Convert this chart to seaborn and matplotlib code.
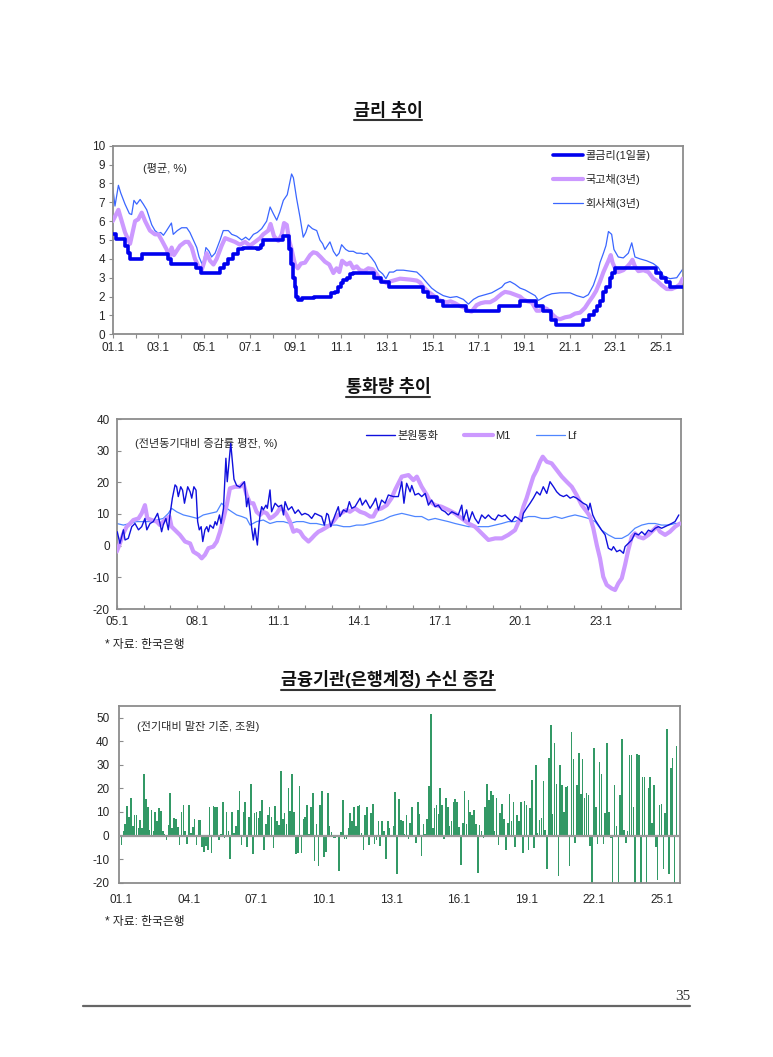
import matplotlib
matplotlib.use('Agg')
import matplotlib.pyplot as plt
from matplotlib.lines import Line2D
import seaborn as sns
import numpy as np

# ---- 금리 추이 (%, 연도 소수 표기) ----
call_x = [2001.0, 2001.15, 2001.55, 2001.65, 2001.75, 2002.3, 2003.4, 2003.55, 2004.65, 2004.85,
          2005.7, 2005.85, 2006.05, 2006.28, 2006.5, 2006.72, 2007.3, 2007.4, 2007.5, 2007.6,
          2008.45, 2008.72, 2008.8, 2008.88, 2008.96, 2009.04, 2009.12, 2009.3, 2009.6, 2009.8,
          2010.55, 2010.75, 2010.85, 2011.0, 2011.1, 2011.25, 2011.4, 2011.5, 2012.45, 2012.75,
          2013.1, 2014.6, 2014.8, 2015.2, 2015.45, 2016.45, 2017.9, 2018.85, 2019.55, 2019.85,
          2020.2, 2020.4, 2021.6, 2021.85, 2022.05, 2022.2, 2022.35, 2022.45, 2022.6, 2022.75,
          2022.85, 2023.0, 2024.8, 2025.0, 2025.2, 2025.4, 2025.95]
call_y = [5.3, 5.05, 4.7, 4.3, 4.0, 4.25, 4.0, 3.75, 3.5, 3.25,
          3.5, 3.75, 4.0, 4.25, 4.5, 4.6, 4.5, 4.6, 4.75, 5.0,
          5.2, 4.5, 3.75, 3.0, 2.5, 2.0, 1.8, 1.9, 1.95, 2.0,
          2.2, 2.25, 2.5, 2.7, 2.9, 3.0, 3.2, 3.25, 3.0, 2.75,
          2.5, 2.25, 2.0, 1.75, 1.5, 1.25, 1.5, 1.75, 1.5, 1.25,
          0.75, 0.5, 0.75, 1.0, 1.25, 1.5, 1.75, 2.25, 2.5, 3.0,
          3.25, 3.5, 3.25, 3.0, 2.75, 2.5, 2.5]

ktb_x = [2001.0, 2001.25, 2001.54, 2001.76, 2001.98, 2002.12, 2002.27, 2002.42, 2002.63, 2002.85,
         2003.0, 2003.14, 2003.36, 2003.48, 2003.58, 2003.68, 2003.95, 2004.17, 2004.31, 2004.46,
         2004.6, 2004.75, 2004.89, 2005.0, 2005.11, 2005.26, 2005.41, 2005.55, 2005.77, 2005.92,
         2006.13, 2006.35, 2006.57, 2006.79, 2007.01, 2007.23, 2007.45, 2007.59, 2007.81, 2007.91,
         2008.06, 2008.25, 2008.4, 2008.5, 2008.62, 2008.72, 2008.83, 2008.98, 2009.1, 2009.24,
         2009.42, 2009.64, 2009.78, 2009.93, 2010.1, 2010.29, 2010.48, 2010.66, 2010.8, 2010.92,
         2011.04, 2011.24, 2011.39, 2011.53, 2011.68, 2011.82, 2012.0, 2012.19, 2012.38, 2012.55,
         2012.7, 2012.87, 2013.02, 2013.14, 2013.58, 2014.02, 2014.31, 2014.45, 2014.6, 2014.82,
         2015.04, 2015.26, 2015.4, 2015.62, 2015.79, 2015.98, 2016.2, 2016.42, 2016.57, 2016.71,
         2016.93, 2017.11, 2017.3, 2017.52, 2017.74, 2017.88, 2018.03, 2018.17, 2018.39, 2018.61,
         2018.83, 2018.97, 2019.15, 2019.34, 2019.56, 2019.7, 2019.85, 2020.0, 2020.14, 2020.29,
         2020.43, 2020.58, 2020.8, 2021.02, 2021.24, 2021.46, 2021.67, 2021.86, 2022.01, 2022.16,
         2022.33, 2022.48, 2022.59, 2022.7, 2022.8, 2022.88, 2022.99, 2023.13, 2023.35, 2023.53,
         2023.64, 2023.75, 2023.86, 2024.01, 2024.23, 2024.45, 2024.66, 2024.81, 2025.03, 2025.25,
         2025.47, 2025.66, 2025.83, 2025.95]
ktb_y = [6.0, 6.6, 5.4, 4.8, 6.0, 6.1, 6.45, 6.0, 5.5, 5.3,
         5.3, 5.0, 4.5, 4.1, 4.6, 4.2, 4.7, 4.9, 4.9, 4.6,
         4.0, 3.6, 3.4, 3.8, 4.3, 3.9, 3.7, 4.0, 4.7, 5.1,
         5.0, 4.9, 4.75, 4.9, 4.7, 4.9, 5.1, 5.3, 5.5, 5.85,
         5.2, 4.95, 5.3, 5.9, 5.8, 5.0, 4.5, 3.7, 3.5, 3.75,
         3.8, 4.2, 4.35, 4.3, 4.1, 3.85, 3.7, 3.25, 3.5, 3.3,
         3.9, 3.7, 3.8, 3.5, 3.6, 3.4, 3.35, 3.5, 3.45, 3.2,
         2.9, 2.8, 2.7, 2.8, 2.95, 2.9, 2.85, 2.75, 2.5, 2.25,
         2.05, 1.85, 1.75, 1.7, 1.75, 1.65, 1.5, 1.4, 1.25, 1.2,
         1.55, 1.65, 1.7, 1.7, 1.85, 2.0, 2.15, 2.25, 2.2, 2.1,
         2.0, 1.85, 1.75, 1.7, 1.25, 1.25, 1.4, 1.35, 1.2, 1.0,
         0.85, 0.8, 0.9, 0.95, 1.1, 1.15, 1.4, 1.75, 2.0, 2.3,
         2.8, 3.3, 3.6, 3.9, 4.2, 3.8, 3.5, 3.3, 3.4, 3.6,
         3.75, 3.95, 3.6, 3.35, 3.4, 3.3, 2.95, 2.85, 2.6, 2.4,
         2.4, 2.5, 2.65, 2.95]

corp_x = [2001.0, 2001.1, 2001.25, 2001.35, 2001.54, 2001.73, 2001.83, 2001.93, 2002.05, 2002.2,
          2002.34, 2002.49, 2002.6, 2002.71, 2002.85, 2003.0, 2003.1, 2003.22, 2003.36, 2003.57,
          2003.65, 2003.83, 2004.02, 2004.24, 2004.38, 2004.53, 2004.68, 2004.78, 2004.85, 2004.92,
          2005.0, 2005.08, 2005.22, 2005.33, 2005.48, 2005.7, 2005.84, 2006.06, 2006.21, 2006.43,
          2006.65, 2006.82, 2006.97, 2007.16, 2007.33, 2007.52, 2007.74, 2007.89, 2008.03, 2008.18,
          2008.32, 2008.47, 2008.64, 2008.83, 2008.91, 2009.05, 2009.2, 2009.34, 2009.45, 2009.56,
          2009.74, 2009.93, 2010.07, 2010.19, 2010.29, 2010.51, 2010.66, 2010.8, 2010.91, 2011.02,
          2011.2, 2011.34, 2011.53, 2011.68, 2011.85, 2012.0, 2012.15, 2012.33, 2012.48, 2012.63,
          2012.82, 2012.96, 2013.11, 2013.29, 2013.43, 2013.72, 2014.02, 2014.31, 2014.53, 2014.74,
          2014.96, 2015.18, 2015.47, 2015.77, 2016.06, 2016.35, 2016.57, 2016.79, 2017.01, 2017.3,
          2017.59, 2017.81, 2018.03, 2018.17, 2018.39, 2018.61, 2018.83, 2019.05, 2019.27, 2019.49,
          2019.63, 2019.78, 2020.0, 2020.22, 2020.58, 2021.02, 2021.31, 2021.6, 2021.82, 2022.04,
          2022.21, 2022.33, 2022.48, 2022.59, 2022.7, 2022.84, 2022.94, 2023.13, 2023.35, 2023.57,
          2023.72, 2023.86, 2024.08, 2024.37, 2024.66, 2024.88, 2025.1, 2025.39, 2025.69, 2025.95]
corp_y = [7.8, 6.8, 7.9, 7.5, 6.9, 6.4, 6.35, 7.1, 6.9, 7.15,
          6.9, 6.6, 6.2, 5.8, 5.5, 5.35, 5.4, 5.25, 5.5, 5.9,
          5.3, 5.5, 5.65, 5.65, 5.4, 5.0, 4.6, 4.1, 3.9, 3.7,
          4.0, 4.6, 4.4, 4.1, 4.3, 5.0, 5.5, 5.5, 5.3, 5.2,
          5.0, 5.15, 5.0, 5.3, 5.4, 5.6, 6.0, 6.75, 6.4, 6.05,
          6.5, 7.1, 7.4, 8.5, 8.3, 7.2, 6.2, 5.15, 5.4, 5.8,
          5.6, 5.5, 5.0, 4.8, 4.5, 4.9, 4.4, 4.15, 4.3, 4.75,
          4.5, 4.4, 4.4, 4.3, 4.3, 4.25, 4.3, 4.05, 3.8, 3.4,
          3.2, 2.95, 3.3, 3.3, 3.4, 3.4, 3.35, 3.3, 3.05, 2.75,
          2.45, 2.25, 2.05, 1.95, 2.0, 1.85, 1.6, 1.85, 2.0, 2.1,
          2.2, 2.35, 2.5, 2.7, 2.8, 2.65, 2.45, 2.35, 2.2, 2.05,
          1.8, 1.9, 2.05, 2.15, 2.2, 2.2, 2.05, 1.95, 2.1, 2.6,
          3.2, 3.8, 4.3, 4.7, 5.45, 5.3, 4.5, 4.1, 4.05, 4.3,
          4.85, 4.1, 4.0, 3.9, 3.75, 3.55, 3.1, 2.95, 3.0, 3.45]

# ---- 통화량 추이 (전년동기대비 증감률 평잔, %) ----
base_x = [2005.02, 2005.12, 2005.25, 2005.31, 2005.43, 2005.56, 2005.68, 2005.81, 2005.93, 2006.05,
          2006.12, 2006.24, 2006.36, 2006.52, 2006.61, 2006.67, 2006.73, 2006.83, 2006.92, 2006.98,
          2007.07, 2007.17, 2007.23, 2007.29, 2007.38, 2007.45, 2007.52, 2007.64, 2007.73, 2007.79,
          2007.87, 2007.95, 2008.01, 2008.07, 2008.14, 2008.2, 2008.28, 2008.35, 2008.41, 2008.47,
          2008.59, 2008.66, 2008.72, 2008.82, 2008.88, 2008.97, 2009.03, 2009.06, 2009.11, 2009.24,
          2009.36, 2009.46, 2009.58, 2009.75, 2009.83, 2009.89, 2009.96, 2010.02, 2010.08, 2010.14,
          2010.23, 2010.29, 2010.33, 2010.39, 2010.45, 2010.55, 2010.6, 2010.7, 2010.76, 2010.89,
          2011.01, 2011.13, 2011.2, 2011.26, 2011.38, 2011.51, 2011.63, 2011.75, 2011.88, 2012.0,
          2012.13, 2012.25, 2012.37, 2012.5, 2012.62, 2012.72, 2012.81, 2012.87, 2012.96, 2013.05,
          2013.12, 2013.24, 2013.3, 2013.43, 2013.55, 2013.65, 2013.74, 2013.86, 2014.05, 2014.13,
          2014.26, 2014.42, 2014.54, 2014.63, 2014.73, 2014.85, 2014.98, 2015.1, 2015.29, 2015.47,
          2015.6, 2015.68, 2015.78, 2015.91, 2015.97, 2016.09, 2016.22, 2016.34, 2016.47, 2016.59,
          2016.71, 2016.84, 2016.96, 2017.08, 2017.21, 2017.33, 2017.46, 2017.58, 2017.7, 2017.83,
          2017.89, 2018.01, 2018.1, 2018.22, 2018.32, 2018.45, 2018.57, 2018.7, 2018.82, 2018.94,
          2019.07, 2019.19, 2019.32, 2019.44, 2019.56, 2019.69, 2019.81, 2019.93, 2020.06, 2020.12,
          2020.24, 2020.37, 2020.49, 2020.62, 2020.74, 2020.86, 2020.99, 2021.11, 2021.24, 2021.36,
          2021.48, 2021.61, 2021.73, 2021.86, 2021.98, 2022.1, 2022.35, 2022.48, 2022.54, 2022.6,
          2022.7, 2022.79, 2022.91, 2023.03, 2023.16, 2023.28, 2023.4, 2023.47, 2023.59, 2023.71,
          2023.84, 2023.9, 2024.02, 2024.15, 2024.27, 2024.4, 2024.52, 2024.64, 2024.77, 2024.89,
          2025.02, 2025.14, 2025.26, 2025.39, 2025.51, 2025.63, 2025.76, 2025.9]
base_y = [4.4, 0.7, 5.0, 1.8, 2.3, 6.0, 7.0, 5.0, 6.0, 8.6,
          5.0, 7.0, 7.6, 10.2, 7.0, 4.4, 6.5, 8.6, 5.0, 9.7,
          15.0, 19.2, 18.6, 15.5, 18.6, 17.5, 13.4, 18.6, 17.0, 15.0,
          18.6, 17.5, 7.6, 5.0, 6.0, 1.3, 5.0, 6.0, 4.4, 6.5,
          5.5, 7.6, 6.5, 9.7, 7.0, 11.8, 22.3, 27.6, 20.2, 32.3,
          21.0, 19.0, 18.5, 20.2, 12.3, 15.0, 10.7, 5.5, 1.8, 5.5,
          0.2, 6.5, 9.7, 12.3, 11.3, 12.8, 11.8, 17.6, 10.7, 13.4,
          12.3, 12.8, 9.7, 13.9, 11.3, 12.3, 10.2, 11.3, 9.7, 10.2,
          9.7, 8.6, 10.2, 9.7, 9.2, 6.5, 10.2, 9.7, 6.0, 8.1,
          9.7, 12.3, 9.2, 11.3, 10.7, 13.9, 11.8, 12.3, 15.0, 12.8,
          14.4, 11.8, 13.4, 15.0, 11.3, 14.4, 13.4, 16.0, 15.5, 15.5,
          20.2, 13.4, 19.7, 17.0, 19.0, 16.0, 16.5, 15.5, 16.5, 12.8,
          14.4, 12.3, 12.8, 11.3, 10.7, 9.7, 10.7, 10.2, 9.7, 12.8,
          8.1, 11.3, 7.6, 10.7, 8.6, 7.0, 9.7, 8.6, 9.7, 8.6,
          8.1, 9.7, 9.2, 9.7, 8.6, 7.6, 9.2, 8.6, 7.6, 10.2,
          11.8, 13.4, 15.0, 17.0, 16.0, 18.6, 16.5, 20.2, 18.6, 17.0,
          16.0, 15.5, 16.0, 15.0, 15.5, 15.0, 13.4, 12.8, 11.3, 13.4,
          9.7, 8.1, 6.5, 4.9, 3.4, -0.8, -1.4, -0.3, -1.9, -1.4,
          -2.4, -0.3, 0.7, 1.8, 3.9, 3.4, 4.4, 3.4, 4.9, 4.4,
          5.5, 6.0, 5.5, 6.0, 6.5, 7.0, 7.6, 9.7]

m1_x = [2005.0, 2005.12, 2005.25, 2005.37, 2005.5, 2005.62, 2005.81, 2005.93, 2006.05, 2006.14,
        2006.3, 2006.49, 2006.61, 2006.73, 2006.86, 2006.96, 2007.04, 2007.17, 2007.35, 2007.54,
        2007.73, 2007.85, 2008.04, 2008.16, 2008.28, 2008.41, 2008.59, 2008.72, 2008.84, 2008.97,
        2009.09, 2009.21, 2009.4, 2009.58, 2009.71, 2009.83, 2009.96, 2010.08, 2010.2, 2010.33,
        2010.45, 2010.58, 2010.7, 2010.82, 2010.95, 2011.07, 2011.2, 2011.32, 2011.44, 2011.57,
        2011.69, 2011.82, 2011.94, 2012.13, 2012.25, 2012.37, 2012.5, 2012.62, 2012.74, 2012.93,
        2013.05, 2013.24, 2013.43, 2013.55, 2013.67, 2013.86, 2014.05, 2014.23, 2014.42, 2014.54,
        2014.67, 2014.85, 2015.04, 2015.22, 2015.35, 2015.6, 2015.85, 2016.03, 2016.16, 2016.34,
        2016.53, 2016.65, 2016.84, 2017.08, 2017.33, 2017.58, 2017.83, 2018.08, 2018.32, 2018.57,
        2018.82, 2019.07, 2019.32, 2019.56, 2019.81, 2020.0, 2020.12, 2020.24, 2020.37, 2020.49,
        2020.62, 2020.74, 2020.84, 2020.99, 2021.17, 2021.36, 2021.55, 2021.73, 2021.92, 2022.1,
        2022.29, 2022.48, 2022.6, 2022.72, 2022.85, 2022.97, 2023.09, 2023.22, 2023.4, 2023.53,
        2023.65, 2023.78, 2023.9, 2024.02, 2024.15, 2024.27, 2024.4, 2024.58, 2024.77, 2024.95,
        2025.08, 2025.2, 2025.39, 2025.57, 2025.76, 2025.94]
m1_y = [-1.9, 0.7, 3.9, 6.0, 7.0, 8.1, 8.6, 10.2, 12.8, 8.6,
        8.1, 7.6, 6.5, 7.6, 8.6, 9.2, 6.0, 4.9, 3.4, 1.3,
        0.7, -1.9, -2.9, -4.0, -2.9, -0.8, -0.3, 1.3, 4.4, 8.6,
        12.8, 18.1, 18.6, 18.6, 19.7, 16.0, 13.4, 13.4, 10.7, 9.7,
        10.7, 10.2, 8.6, 9.2, 10.2, 11.8, 11.3, 9.7, 7.6, 4.4,
        4.9, 4.4, 2.8, 1.3, 2.3, 3.4, 4.4, 4.9, 5.5, 6.5,
        7.6, 9.7, 10.7, 11.3, 10.7, 11.8, 10.7, 10.2, 9.2, 9.2,
        11.3, 11.8, 12.8, 15.0, 17.6, 21.8, 22.3, 20.7, 21.8, 18.6,
        16.0, 13.9, 12.8, 12.3, 11.3, 10.2, 8.6, 7.0, 6.0, 3.9,
        1.8, 2.3, 2.3, 3.4, 4.9, 8.6, 12.3, 15.0, 18.6, 21.8,
        23.9, 26.5, 28.1, 26.5, 26.0, 23.9, 21.8, 20.2, 18.6, 16.0,
        12.8, 10.7, 9.2, 5.5, 0.2, -4.0, -9.8, -12.4, -13.5, -14.0,
        -11.9, -10.3, -6.1, -1.4, 2.8, 3.9, 2.8, 2.3, 3.4, 4.9,
        6.0, 4.4, 3.4, 4.4, 6.0, 7.0]

lf_x = [2005.0, 2005.25, 2005.5, 2005.74, 2005.99, 2006.24, 2006.49, 2006.73, 2006.92, 2007.04,
        2007.23, 2007.48, 2007.73, 2008.0, 2008.22, 2008.47, 2008.72, 2008.9, 2009.09, 2009.28,
        2009.46, 2009.65, 2009.83, 2009.96, 2010.2, 2010.45, 2010.7, 2010.95, 2011.2, 2011.44,
        2011.69, 2011.94, 2012.19, 2012.43, 2012.68, 2012.93, 2013.18, 2013.43, 2013.67, 2013.92,
        2014.17, 2014.42, 2014.67, 2014.91, 2015.16, 2015.35, 2015.6, 2015.85, 2016.09, 2016.34,
        2016.59, 2016.84, 2017.08, 2017.33, 2017.58, 2017.83, 2018.08, 2018.32, 2018.57, 2018.82,
        2019.07, 2019.32, 2019.56, 2019.81, 2020.06, 2020.31, 2020.55, 2020.8, 2021.05, 2021.3,
        2021.55, 2021.79, 2022.04, 2022.29, 2022.54, 2022.79, 2023.03, 2023.28, 2023.53, 2023.78,
        2024.02, 2024.27, 2024.52, 2024.77, 2025.02, 2025.26, 2025.51, 2025.76, 2025.94]
lf_y = [7.0, 6.5, 7.0, 7.6, 7.6, 7.6, 8.1, 8.6, 10.2, 11.8,
        10.7, 9.7, 9.2, 8.6, 9.7, 10.2, 10.7, 13.4, 11.8, 10.7,
        9.7, 9.2, 8.6, 6.5, 7.6, 8.1, 7.0, 7.6, 7.6, 7.0,
        7.6, 7.6, 7.0, 7.0, 6.5, 6.5, 6.5, 6.0, 6.0, 6.5,
        6.5, 7.0, 7.6, 8.1, 9.2, 9.7, 10.2, 9.7, 9.2, 9.2,
        8.1, 8.6, 8.1, 7.6, 7.0, 6.5, 6.0, 6.0, 6.0, 6.0,
        6.5, 7.0, 7.6, 7.6, 8.6, 9.2, 9.2, 8.6, 8.6, 9.2,
        8.6, 9.2, 9.7, 9.2, 8.6, 7.6, 4.9, 3.4, 2.3, 2.3,
        3.4, 5.5, 6.5, 7.0, 7.0, 6.5, 6.5, 7.0, 7.0]

# ---- 금융기관(은행계정) 수신 증감 (조원, 2001.1월부터 월별) ----
deposit_chg = [
    -4, 2, 5, 12.5, 8, 16, 4, 8.5, 8.5, 3, 6.5, 3, 26, 15.5, 12, 2.5, 11, 2, 10, 6,
    11.5, 10.5, 2, 0.5, -2, 4.5, 18, 3, 7.5, 7, 3.5, -4, 10, 13, 2, -3.5, 13, 1, 3.5, 7,
    -4, 6.5, 6.5, -5, -7, -4.5, -6, 12, -7.5, 12.5, 12, 12, -2, 0.5, 14, -1, 10, 2, -10, 10,
    1, 4, 11, 19, -4, 10, 14, -5, 8, 22, -8, 9.5, 10, 7.5, 10.5, 15, -6, 5, 8.5, 12,
    8, -5.5, 12.5, 6, 4.5, 27.5, 7, 9.5, 5, 20, 10.5, 26, 10, -8, -7.5, 21, -7.5, 7, 8, 13,
    0.5,
    12, 18, -11, 5, -13, 13, 19, -9, -7, 18, 4, 1.5, -1, -1, 0, -15, 1.5, 15, -1.5, -1.5,
    3, 9.5, 6, 12, 4, 12.5, 13, 1, -6, 8.5, 12, -4, 9.5, 13.5, -3.5, -2, 6, -4.5, 6, 2,
    -10, 6, 3, -0.5, 4, 18.5, -16.5, 15.5, 6.5, 6, 0.5, 8.5, -1.5, 5.5, 12, -0.5, -3, 14, 9, -8.5,
    5, 0.5, 7, 21, 51.5, 3, 11.5, 13, 9, 20, 13, -1.5, 16, 12, 4, 6, 14, 15.5, 14, 3.5,
    -12.5, 5.5, 19, 5, 15, 10, 8.5, 11, 5, -16, 4.5, 2, -1, 12, 22, 15, 19, 17, 2, 16,
    -4, 9.5, 13.5, 7, -6, 5.5, 17.5, 6, 14, -5, 8.5, 6, 14, -7.5, 14.5, 13, -6, 11.5, 23.5, -5.5,
    30, 1, 6.5, 7.5, 23, 2.5, -14, 33, 47, 9, 39, 22, -17, 30, 21.5, 10, 20.5, 21, -13, 44,
    32.5, -3, 21.5, 35, 17.5, 32.5, 16, 18, 17, -4.5, -22, 37, 12, -3.5, 31, 26, -3.5, 9.5, 39, 10,
    -1, -22, 21.5, 4, -22, 17, 41, 2.5, -3, 2, 34, 34, 12, -22, 34.5, 34, -22, 25, 25, -22,
    20, 25, 5.5, 21.5, -5, -19, 13, 13.5, -14, 9.5, 45, -16.5, 28.5, 33, -22, 38]

W, H = 773, 1057


def px_rect(l, t, r, b):
    return [l / W, 1 - b / H, (r - l) / W, (b - t) / H]


sns.set_theme(style='white')
plt.rcParams['font.family'] = ['Liberation Sans', 'Noto Sans CJK KR', 'DejaVu Sans']
plt.rcParams['axes.unicode_minus'] = False

GRAY = '#8c8c8c'
fig = plt.figure(figsize=(W / 100, H / 100), dpi=100)
fig.patch.set_facecolor('white')


def style_axes(ax):
    for sp in ax.spines.values():
        sp.set_color(GRAY)
        sp.set_linewidth(1.3)
    ax.set_facecolor('white')
    ax.set_xlabel('')
    ax.set_ylabel('')


# ---------------- 금리 추이 ----------------
ax1 = fig.add_axes(px_rect(112.7, 145.7, 682.7, 334.3))
sns.lineplot(x=corp_x, y=corp_y, ax=ax1, color='#3a66ff', linewidth=0.9,
             estimator=None, sort=False, label='회사채(3년)', zorder=2)
sns.lineplot(x=ktb_x, y=ktb_y, ax=ax1, color='#cc99ff', linewidth=3.0,
             estimator=None, sort=False, label='국고채(3년)', zorder=3)
sns.lineplot(x=call_x, y=call_y, ax=ax1, color='#0000ee', linewidth=2.6,
             estimator=None, sort=False, drawstyle='steps-post', label='콜금리(1일물)', zorder=4)
ax1.set_xlim(2001.0, 2025.95)
ax1.set_ylim(0, 10)
ax1.set_yticks(range(0, 11))
yrs1 = list(range(2001, 2026))
ax1.set_xticks(yrs1)
ax1.set_xticklabels([f'{y % 100:02d}.1' if (y - 2001) % 2 == 0 else '' for y in yrs1])
ax1.tick_params(axis='both', direction='out', length=3, width=0.8, color=GRAY,
                labelsize=8.5, pad=2.5, bottom=True, left=True)
style_axes(ax1)
h, l = ax1.get_legend_handles_labels()
order = [l.index('콜금리(1일물)'), l.index('국고채(3년)'), l.index('회사채(3년)')]
ax1.legend([h[i] for i in order], [l[i] for i in order], loc='upper left',
           bbox_to_anchor=(553 / W, 1 - 150 / H), bbox_transform=fig.transFigure,
           frameon=False, fontsize=8, handlelength=2.7, handletextpad=0.2,
           labelspacing=1.15, borderpad=0, borderaxespad=0)
ax1.text(143 / W, 1 - 168 / H, '(평균, %)', transform=fig.transFigure,
         fontsize=8, va='center', ha='left')

# ---------------- 통화량 추이 ----------------
ax2 = fig.add_axes(px_rect(116.7, 419, 680.7, 609))
sns.lineplot(x=lf_x, y=lf_y, ax=ax2, color='#4f86ff', linewidth=0.9,
             estimator=None, sort=False, label='Lf', zorder=2)
sns.lineplot(x=m1_x, y=m1_y, ax=ax2, color='#cc99ff', linewidth=3.0,
             estimator=None, sort=False, label='M1', zorder=3)
sns.lineplot(x=base_x, y=base_y, ax=ax2, color='#1010dd', linewidth=1.0,
             estimator=None, sort=False, label='본원통화', zorder=4)
ax2.set_xlim(2005.0, 2025.97)
ax2.set_ylim(-20, 40)
ax2.set_yticks(range(-20, 41, 10))
yrs2 = list(range(2005, 2026))
ax2.set_xticks(yrs2)
ax2.set_xticklabels([f'{y % 100:02d}.1' if (y - 2005) % 3 == 0 else '' for y in yrs2])
ax2.tick_params(axis='both', direction='in', length=3, width=0.8, color=GRAY,
                labelsize=8.5, pad=5, bottom=True, left=True)
style_axes(ax2)
h, l = ax2.get_legend_handles_labels()
order = [l.index('본원통화'), l.index('M1'), l.index('Lf')]
ax2.legend([h[i] for i in order], [l[i] for i in order], loc='upper left', ncol=3,
           bbox_to_anchor=(366 / W, 1 - 431 / H), bbox_transform=fig.transFigure,
           frameon=False, fontsize=8, handlelength=2.6, handletextpad=0.2,
           columnspacing=2.3, borderpad=0, borderaxespad=0)
ax2.text(135 / W, 1 - 443 / H, '(전년동기대비 증감률 평잔, %)', transform=fig.transFigure,
         fontsize=8, va='center', ha='left')

# ---------------- 수신 증감 ----------------
ax3 = fig.add_axes(px_rect(119, 705.7, 680, 882.7))
months = np.arange(len(deposit_chg))
ax3.bar(months, deposit_chg, width=0.85, color='#339966', linewidth=0, zorder=2)
ax3.axhline(0, color='#9a9a9a', linewidth=1.6, zorder=3)
ax3.set_xlim(-1.33, 297.9)
ax3.set_ylim(-20, 55)
ax3.set_yticks(range(-20, 51, 10))
tick_m = list(range(0, 289, 36))
ax3.set_xticks(tick_m)
ax3.set_xticklabels([f'{(1 + m // 12) % 100:02d}.1' for m in tick_m])
ax3.tick_params(axis='y', direction='in', length=3, width=0.8, color=GRAY,
                labelsize=8.5, pad=7, left=True)
ax3.tick_params(axis='x', length=0, labelsize=8.5, pad=8)
style_axes(ax3)
ax3.text(137 / W, 1 - 726 / H, '(전기대비 말잔 기준, 조원)', transform=fig.transFigure,
         fontsize=8, va='center', ha='left')

# ---------------- 제목, 출처, 쪽번호 ----------------
titles = [('금리 추이', 110), ('통화량 추이', 387), ('금융기관(은행계정) 수신 증감', 679)]
title_objs = []
for txt, ty in titles:
    t = fig.text(388 / W, 1 - ty / H, txt, ha='center', va='center',
                 fontsize=12.5, fontweight='bold', color='#111111')
    title_objs.append(t)

for sy in (645, 922):
    fig.text(105 / W, 1 - sy / H, '* 자료: 한국은행', ha='left', va='center',
             fontsize=8.5, color='#222222')

fig.text(690 / W, 1 - 996 / H, '35', ha='right', va='center', fontsize=11,
         family='Liberation Serif', color='#333333')
fig.add_artist(Line2D([83 / W, 690 / W], [1 - 1006 / H, 1 - 1006 / H],
                      transform=fig.transFigure, color='#666666', linewidth=1.6))

fig.canvas.draw()
renderer = fig.canvas.get_renderer()
for t in title_objs:
    bb = t.get_window_extent(renderer=renderer)
    x0, x1 = bb.x0 / fig.bbox.width, bb.x1 / fig.bbox.width
    yb = (bb.y0 - 1.5) / fig.bbox.height
    fig.add_artist(Line2D([x0, x1], [yb, yb], transform=fig.transFigure,
                          color='#333333', linewidth=1.5))

fig.savefig('out.png', dpi=100, facecolor='white')
